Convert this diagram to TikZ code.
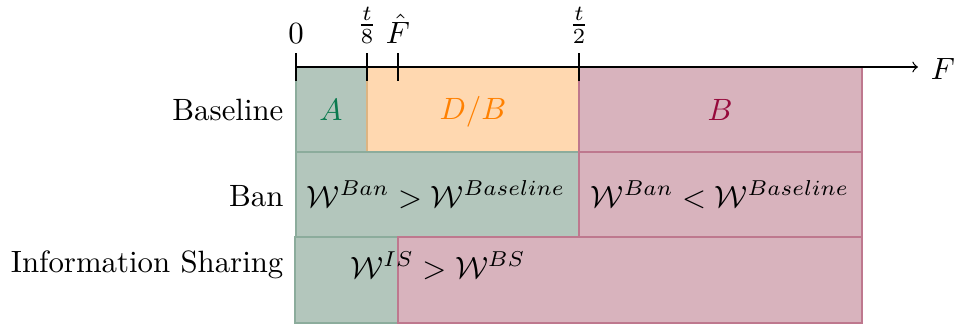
\documentclass[tikz,border=0pt]{standalone}
\usepackage{amsmath}
\begin{document}
\begin{tikzpicture}[x=0.3245pt,y=-0.3245pt,
  gbox/.style={fill=gfill,draw=gline,line width=0.4pt},
  obox/.style={fill=ofill,draw=oline,line width=0.4pt},
  rbox/.style={fill=rfill,draw=rline,line width=0.4pt},
  rowlab/.style={anchor=base east,inner sep=0pt},
  celltxt/.style={anchor=base,inner sep=0pt},
  ticklab/.style={anchor=south,inner sep=0pt}]
\definecolor{gfill}{RGB}{179,198,188}
\definecolor{gline}{RGB}{140,172,156}
\definecolor{ofill}{RGB}{255,216,176}
\definecolor{oline}{RGB}{220,180,130}
\definecolor{rfill}{RGB}{216,179,189}
\definecolor{rline}{RGB}{190,120,142}
\definecolor{gtxt}{RGB}{10,122,78}
\definecolor{otxt}{RGB}{255,128,0}
\definecolor{rtxt}{RGB}{150,10,60}
\useasboundingbox (0,0) rectangle (957,325);
% baseline row
\path[gbox] (296,67) rectangle (367,152);
\path[obox] (367,67) rectangle (579,152);
\path[rbox] (579,67) rectangle (862,152);
% ban row
\path[gbox] (296,152) rectangle (579,237);
\path[rbox] (579,152) rectangle (862,237);
% information sharing row
\path[gbox] (295,237) rectangle (398,323);
\path[rbox] (398,237) rectangle (862,323);
% axis
\coordinate (o) at (296,67);
\coordinate (e) at (918,67);
\draw[->] (o) -- (e);
\node[anchor=base,inner sep=0pt] (F) at (943,79) {$F$};
\foreach \x/\n in {296/t0,367/t8,398/tF,579/t2}{
  \coordinate (\n a) at (\x,53);
  \coordinate (\n b) at (\x,81);
  \draw (\n a) -- (\n b);
}
\node[ticklab] (l0) at (296,44) {$0$};
\node[ticklab] (l8) at (367,44) {$\frac{t}{8}$};
\node[ticklab] (lF) at (398,44) {$\hat{F}$};
\node[ticklab] (l2) at (579,44) {$\frac{t}{2}$};
% row labels
\node[rowlab] (rb) at (284,120) {Baseline};
\node[rowlab] (rban) at (284,206) {Ban};
\node[rowlab] (ris) at (284,272) {Information Sharing};
% cell texts
\node[celltxt,text=gtxt] (cA) at (331,120) {$A$};
\node[celltxt,text=otxt] (cDB) at (473,119) {$D/B$};
\node[celltxt,text=rtxt] (cB) at (720,120) {$B$};
\node[celltxt] (c1) at (436,207) {$\mathcal{W}^{Ban} > \mathcal{W}^{Baseline}$};
\node[celltxt] (c2) at (720,207) {$\mathcal{W}^{Ban} < \mathcal{W}^{Baseline}$};
\node[celltxt] (c3) at (438,278) {$\mathcal{W}^{IS} > \mathcal{W}^{BS}$};
\end{tikzpicture}
\end{document}
